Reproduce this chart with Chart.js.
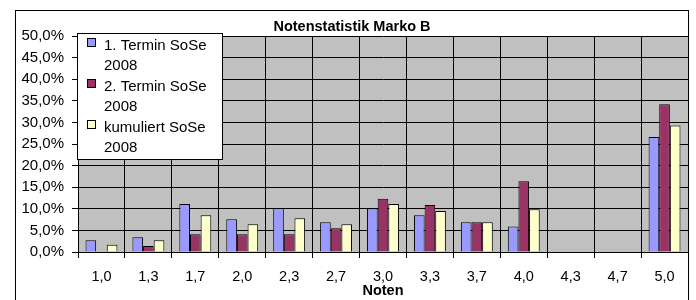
<!DOCTYPE html>
<html><head><meta charset="utf-8">
<script src="https://cdn.jsdelivr.net/npm/chart.js@4"></script>
<style>html,body{margin:0;padding:0;background:#fff}#wrap{width:696px;height:300px}</style>
</head><body><div id="wrap"><canvas id="c" width="696" height="300"></canvas></div>
<script>
const categories = ['1,0','1,3','1,7','2,0','2,3','2,7','3,0','3,3','3,7','4,0','4,3','4,7','5,0'];
const termin1 = [2.7,3.4,11.1,7.6,10.2,6.9,10.1,8.5,6.9,5.9,0,0,26.6];
const termin2 = [0,1.4,4.1,4.1,4.1,5.5,12.3,10.9,6.9,16.4,0,0,34.2];
const kumuliert = [1.7,2.7,8.5,6.4,7.8,6.4,11.1,9.5,6.9,9.9,0,0,29.3];
const seriesLabels = ['1. Termin SoSe 2008','2. Termin SoSe 2008','kumuliert SoSe 2008'];
const titleText = 'Notenstatistik Marko B';
const xTitle = 'Noten';

const FONT = '"Liberation Sans", Arial, sans-serif';

const frame = {
  id:'frame',
  beforeDraw(chart){
    const {ctx, chartArea:a} = chart;
    ctx.save();
    ctx.fillStyle = '#fff';
    ctx.fillRect(0,0,chart.width,chart.height);
    ctx.fillStyle = '#C0C0C0';
    ctx.fillRect(a.left, a.top, a.right-a.left, a.bottom-a.top);
    ctx.restore();
  },
  afterDraw(chart){
    const {ctx} = chart;
    ctx.save();
    ctx.strokeStyle = '#000'; ctx.lineWidth = 1;
    ctx.strokeRect(15.5, 10.5, 673, 320);
    // title
    ctx.fillStyle = '#000';
    ctx.font = 'bold 14.5px ' + FONT;
    ctx.textAlign = 'center'; ctx.textBaseline = 'middle';
    ctx.fillText(titleText, 352, 27);
    // legend
    const lx = 77, ly = 33, lw = 145, lh = 126;
    ctx.fillStyle = '#fff';
    ctx.fillRect(lx, ly, lw, lh);
    ctx.strokeStyle = '#000';
    ctx.strokeRect(lx+0.5, ly+0.5, lw, lh);
    ctx.font = '15px ' + FONT;
    ctx.textAlign = 'left';
    const maxW = 114;
    let y = 46;
    chart.data.datasets.forEach(ds => {
      const words = ds.label.split(' ');
      const lines = []; let cur = '';
      words.forEach(w => {
        const t = cur ? cur + ' ' + w : w;
        if (ctx.measureText(t).width > maxW && cur) { lines.push(cur); cur = w; } else cur = t;
      });
      if (cur) lines.push(cur);
      ctx.fillStyle = ds.backgroundColor;
      ctx.fillRect(87, y-8, 9, 9);
      ctx.strokeStyle = '#000';
      ctx.strokeRect(87.5, y-7.5, 8, 8);
      ctx.fillStyle = '#000';
      lines.forEach((ln,i) => ctx.fillText(ln, 104, y + i*19.5));
      y += lines.length * 20.5;
    });
    ctx.restore();
  }
};

new Chart(document.getElementById('c'), {
  type:'bar',
  data:{
    labels: categories,
    datasets:[
      {label: seriesLabels[0], data: termin1, backgroundColor:'#9999FF', borderColor:'#000', borderWidth:1},
      {label: seriesLabels[1], data: termin2, backgroundColor:'#993366', borderColor:'#000', borderWidth:1},
      {label: seriesLabels[2], data: kumuliert, backgroundColor:'#FFFFCC', borderColor:'#000', borderWidth:1}
    ]
  },
  options:{
    responsive:false, animation:false, devicePixelRatio:1,
    layout:{padding:{left:16, right:8, top:36, bottom:0}},
    datasets:{bar:{categoryPercentage:0.68, barPercentage:1.0}},
    plugins:{legend:{display:false}, title:{display:false}, tooltip:{enabled:false}},
    scales:{
      x:{
        offset:true,
        grid:{offset:true, color:'#000', lineWidth:1, tickLength:6, drawTicks:true},
        border:{color:'#000'},
        ticks:{color:'#000', font:{family:FONT, size:14.5}, padding:10, maxRotation:0, autoSkip:false},
        title:{display:true, text:xTitle, color:'#000', font:{family:FONT, size:14.5, weight:'bold'}, padding:{top:0,bottom:0}},
        afterFit(s){ s.height = 48; }
      },
      y:{
        min:0, max:50,
        grid:{color:'#000', lineWidth:1, tickLength:6},
        border:{color:'#000'},
        ticks:{stepSize:5, color:'#000', font:{family:FONT, size:15}, padding:8,
          callback:v => v.toFixed(1).replace('.',',') + '%'},
        afterFit(s){ s.width = 62; }
      }
    }
  },
  plugins:[frame]
});
</script>
</body></html>
